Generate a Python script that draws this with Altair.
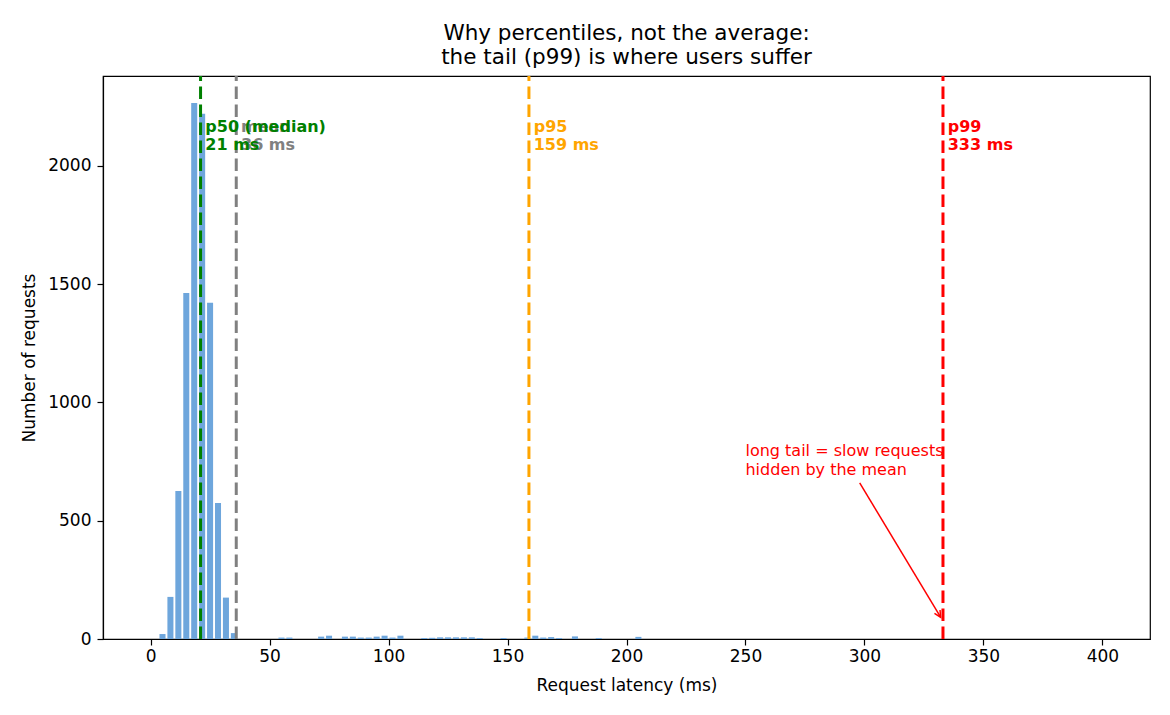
import altair as alt
import pandas as pd

# Histogram of request latencies: 120 bins of equal width over 0-400 ms
BIN_WIDTH = 400 / 120
counts = [
    0, 21, 178, 626, 1463, 2266, 2220, 1421, 575, 175,      # 0-33 ms
    25, 0, 0, 0, 0, 0, 6, 6, 0, 0,                          # 33-67 ms
    0, 10, 14, 0, 10, 10, 6, 6, 10, 14,                     # 67-100 ms
    6, 14, 0, 0, 4, 5, 7, 7, 7, 7,                          # 100-133 ms
    7, 4, 0, 0, 4, 0, 0, 6, 14, 6,                          # 133-167 ms
    8, 4, 0, 11, 0, 0, 4, 0, 0, 0,                          # 167-200 ms
    0, 9, 0, 0, 0, 0, 0, 0, 0, 0,                           # 200-233 ms
] + [0] * 49                                                # 233-400 ms

# Summary statistics shown as vertical reference lines
stat_names = ["mean", "p50 (median)", "p95", "p99"]
stat_values = [36, 21, 159, 333]
stat_colors = ["gray", "green", "orange", "red"]

# Callout for the long tail
note_lines = ["long tail = slow requests", "hidden by the mean"]
note_xy = (250, 775)
arrow_from = (298, 660)
arrow_to = (332, 92)

X_DOMAIN = [-20, 420]
Y_DOMAIN = [0, 2380]
FONT = "DejaVu Sans"

hist = pd.DataFrame({"bin": list(range(len(counts))), "count": counts})
hist["start"] = hist["bin"] * BIN_WIDTH
hist["end"] = hist["start"] + BIN_WIDTH

stats = pd.DataFrame({"name": stat_names, "value": stat_values, "color": stat_colors})
stats["label"] = stats["name"] + "\n" + stats["value"].astype(str) + " ms"

x_scale = alt.Scale(domain=X_DOMAIN, nice=False, zero=False)
y_scale = alt.Scale(domain=Y_DOMAIN, nice=False)

bars = (
    alt.Chart(hist)
    .transform_calculate(
        x0=f"datum.start + 0.12 * {BIN_WIDTH}",
        x1=f"datum.end - 0.12 * {BIN_WIDTH}",
    )
    .mark_rect(color="#6ea6dc")
    .encode(
        x=alt.X(
            "x0:Q",
            scale=x_scale,
            axis=alt.Axis(
                title="Request latency (ms)",
                values=list(range(0, 401, 50)),
                format="d",
                labelPadding=3,
                titlePadding=13,
            ),
        ),
        x2="x1:Q",
        y=alt.Y(
            "count:Q",
            scale=y_scale,
            axis=alt.Axis(
                title="Number of requests",
                values=[0, 500, 1000, 1500, 2000],
                format="d",
                labelPadding=6,
                titlePadding=9,
            ),
        ),
        y2=alt.datum(0),
    )
)

lines = (
    alt.Chart(stats)
    .mark_rule(strokeWidth=3, strokeDash=[12.5, 5.5])
    .encode(
        x=alt.X("value:Q", scale=x_scale),
        y=alt.value(563),
        y2=alt.value(0),
        color=alt.Color("color:N", scale=None),
    )
)

labels = (
    alt.Chart(stats)
    .transform_calculate(tx="datum.value + 2", ty="2200")
    .mark_text(
        align="left",
        baseline="top",
        fontSize=16,
        fontWeight="bold",
        lineBreak="\n",
        lineHeight=18,
        font=FONT,
    )
    .encode(
        x=alt.X("tx:Q", scale=x_scale),
        y=alt.Y("ty:Q", scale=y_scale),
        text="label:N",
        color=alt.Color("color:N", scale=None),
    )
)

note_df = pd.DataFrame({"x": [note_xy[0]], "y": [note_xy[1]], "text": ["\n".join(note_lines)]})
note = (
    alt.Chart(note_df)
    .mark_text(
        align="left",
        baseline="alphabetic",
        fontSize=16,
        color="red",
        lineBreak="\n",
        lineHeight=19,
        font=FONT,
    )
    .encode(
        x=alt.X("x:Q", scale=x_scale),
        y=alt.Y("y:Q", scale=y_scale),
        text="text:N",
    )
)

arrow_df = pd.DataFrame(
    {"x": [arrow_from[0]], "y": [arrow_from[1]], "x2": [arrow_to[0]], "y2": [arrow_to[1]]}
)
arrow_shaft = (
    alt.Chart(arrow_df)
    .mark_rule(color="red", strokeWidth=1.5)
    .encode(
        x=alt.X("x:Q", scale=x_scale),
        y=alt.Y("y:Q", scale=y_scale),
        x2="x2:Q",
        y2="y2:Q",
    )
)
arrow_head = (
    alt.Chart(arrow_df)
    .mark_point(
        shape="M -0.5 1 L 0 0 L 0.5 1",
        size=170,
        angle=149,
        filled=False,
        color="red",
        strokeWidth=1.5,
        opacity=1,
    )
    .encode(
        x=alt.X("x2:Q", scale=x_scale),
        y=alt.Y("y2:Q", scale=y_scale),
    )
)

chart = (
    alt.layer(bars, lines, labels, note, arrow_shaft, arrow_head)
    .properties(
        width=1047,
        height=563,
        title=alt.TitleParams(
            ["Why percentiles, not the average:", "the tail (p99) is where users suffer"],
            fontSize=21.5,
            fontWeight="normal",
            anchor="middle",
            offset=6,
            lineHeight=24,
            color="black",
            font=FONT,
        ),
        autosize=alt.AutoSizeParams(type="none"),
        padding={"left": 103, "top": 76, "right": 20, "bottom": 76},
    )
    .configure(font=FONT, background="white")
    .configure_view(stroke="black", strokeWidth=1.2)
    .configure_axis(
        grid=False,
        domainColor="black",
        domainWidth=1.2,
        tickColor="black",
        tickSize=6,
        tickWidth=1.2,
        labelFontSize=17,
        titleFontSize=17,
        titleFontWeight="normal",
        labelColor="black",
        titleColor="black",
        labelFont=FONT,
        titleFont=FONT,
    )
)

chart.save("out.html", embed_options={"renderer": "svg", "actions": False})
